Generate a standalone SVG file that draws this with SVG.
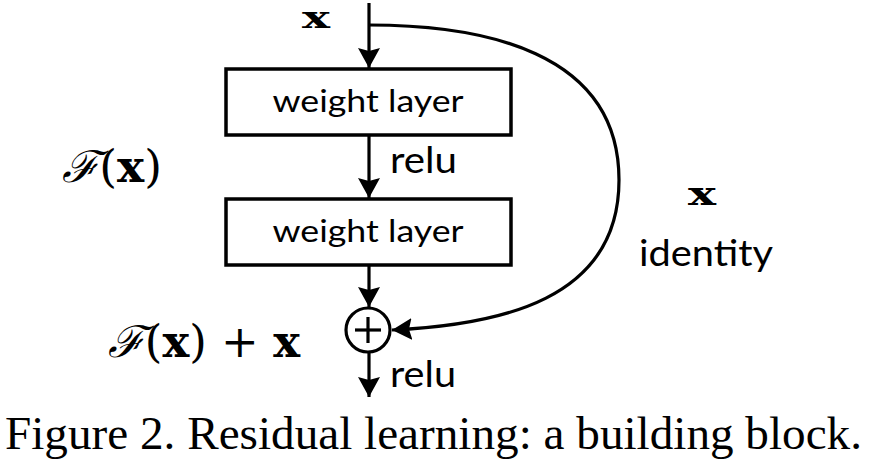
<svg xmlns="http://www.w3.org/2000/svg" width="871" height="465" viewBox="0 0 871 465">
<style>
.box{fill:#fff;stroke:#000;stroke-width:3.5}
.ln{fill:none;stroke:#000;stroke-width:3.2}
.lbl{font-family:Lato,"Open Sans","Liberation Sans",sans-serif;fill:#000}
.math{font-family:"DejaVu Serif","Liberation Serif",serif;fill:#000}
.bx{font-family:"DejaVu Serif","Liberation Serif",serif;font-weight:bold;fill:#000}
.cap{font-family:"Liberation Serif",serif;fill:#000}
</style>
<defs>
<marker id="ah" markerWidth="20" markerHeight="22" refX="20" refY="11" viewBox="0 0 20 22" markerUnits="userSpaceOnUse" orient="auto">
<path d="M0,0 L20,11 L0,22 L3,11 Z" fill="#000"/>
</marker>
</defs>
<rect width="871" height="465" fill="#fff"/>
<g id="connectors">
<line class="ln" x1="369" y1="3" x2="369" y2="68" marker-end="url(#ah)"/>
<line class="ln" x1="369" y1="135" x2="369" y2="198" marker-end="url(#ah)"/>
<line class="ln" x1="369" y1="265" x2="369" y2="307" marker-end="url(#ah)"/>
<line class="ln" x1="369" y1="352" x2="369" y2="397" marker-end="url(#ah)"/>
<path class="ln" d="M369,25 C480,25 619,50 619,180 C619,300 500,325 392,330" marker-end="url(#ah)"/>
</g>
<g id="input-x"><text class="bx" x="302" y="28" font-size="30" textLength="28" lengthAdjust="spacingAndGlyphs">x</text></g>
<g id="weight-layer-1">
<rect class="box" x="226" y="69" width="285" height="66"/>
<text class="lbl" x="368" y="112" font-size="31" text-anchor="middle" textLength="191" lengthAdjust="spacingAndGlyphs">weight layer</text>
</g>
<g id="relu-1"><text class="lbl" x="390" y="173" font-size="37" textLength="67" lengthAdjust="spacingAndGlyphs">relu</text></g>
<g id="weight-layer-2">
<rect class="box" x="226" y="199" width="285" height="66"/>
<text class="lbl" x="368" y="242" font-size="31" text-anchor="middle" textLength="191" lengthAdjust="spacingAndGlyphs">weight layer</text>
</g>
<g id="Fx-label"><text class="math" x="62" y="182" font-size="44" textLength="100" lengthAdjust="spacingAndGlyphs"><tspan font-style="italic">ℱ</tspan>(<tspan font-weight="bold">x</tspan>)</text></g>
<g id="sum">
<circle cx="368" cy="330" r="22" fill="#fff" stroke="#000" stroke-width="3.2"/>
<line class="ln" x1="355" y1="330" x2="381" y2="330"/>
<line class="ln" x1="368" y1="317" x2="368" y2="343"/>
</g>
<g id="Fx-plus-x"><text class="math" x="108" y="357" font-size="44" textLength="192" lengthAdjust="spacingAndGlyphs"><tspan font-style="italic">ℱ</tspan>(<tspan font-weight="bold">x</tspan>) + <tspan font-weight="bold">x</tspan></text></g>
<g id="relu-2"><text class="lbl" x="390" y="387" font-size="37" textLength="66" lengthAdjust="spacingAndGlyphs">relu</text></g>
<g id="identity">
<text class="bx" x="688" y="205" font-size="32" textLength="28" lengthAdjust="spacingAndGlyphs">x</text>
<text class="lbl" x="639" y="266" font-size="37" textLength="134" lengthAdjust="spacingAndGlyphs">identity</text>
</g>
<g id="caption"><text class="cap" x="5" y="449" font-size="46" textLength="857" lengthAdjust="spacingAndGlyphs">Figure 2. Residual learning: a building block.</text></g>
</svg>
